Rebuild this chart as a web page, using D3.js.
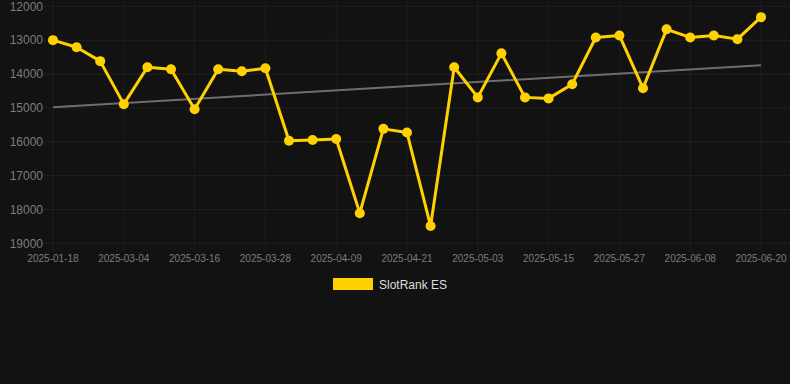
<!DOCTYPE html>
<html>
<head>
<meta charset="utf-8">
<script src="https://cdn.jsdelivr.net/npm/d3@7"></script>
<style>
  html, body { margin: 0; padding: 0; background: #121212; }
  #content { width: 790px; height: 384px; }
  text { font-family: "Liberation Sans", Arial, sans-serif; }
</style>
</head>
<body>
<div id="content"></div>
<script>
// chart data
var dates = [
  '2025-01-18', '2025-02-24', '2025-02-28', '2025-03-04', '2025-03-08', '2025-03-12',
  '2025-03-16', '2025-03-20', '2025-03-24', '2025-03-28', '2025-04-01', '2025-04-05',
  '2025-04-09', '2025-04-13', '2025-04-17', '2025-04-21', '2025-04-25', '2025-04-29',
  '2025-05-03', '2025-05-07', '2025-05-11', '2025-05-15', '2025-05-19', '2025-05-23',
  '2025-05-27', '2025-05-31', '2025-06-04', '2025-06-08', '2025-06-12', '2025-06-16',
  '2025-06-20'
];
var ranks = [
  13000, 13210, 13620, 14890, 13800, 13860,
  15040, 13860, 13920, 13830, 15970, 15950,
  15920, 18110, 15620, 15730, 18490, 13800,
  14690, 13390, 14690, 14720, 14300, 12920,
  12860, 14420, 12680, 12920, 12860, 12970,
  12320
];
var trend = [14980, 13740];   // start / end of the grey trend line
var yTicks = [12000, 13000, 14000, 15000, 16000, 17000, 18000, 19000];
var xTickLabels = dates.filter(function(d, i) { return i % 3 === 0; });
var seriesName = 'SlotRank ES';

var width = 790,
    height = 384;
var gold = '#ffd100';

var svg = d3.select('#content')
  .append('svg')
  .attr('width', width)
  .attr('height', height);

svg.append('rect')
  .attr('width', width)
  .attr('height', height)
  .attr('fill', '#121212');

// scales (rank axis is reversed: smaller is better, on top)
var x = d3.scalePoint()
  .domain(dates)
  .range([53, 761]);
var y = d3.scaleLinear()
  .domain([12000, 19000])
  .range([6.3, 243.3]);

// grid
var grid = svg.append('g');
grid.selectAll('line.h')
  .data(yTicks)
  .enter()
  .append('line')
    .attr('class', 'h')
    .attr('x1', 43)
    .attr('x2', width)
    .attr('y1', function(d) { return y(d); })
    .attr('y2', function(d) { return y(d); })
    .attr('stroke', '#202020')
    .attr('stroke-width', 1);
grid.selectAll('line.v')
  .data(xTickLabels)
  .enter()
  .append('line')
    .attr('class', 'v')
    .attr('x1', function(d) { return x(d); })
    .attr('x2', function(d) { return x(d); })
    .attr('y1', 0)
    .attr('y2', 252)
    .attr('stroke', '#1d1d1d')
    .attr('stroke-width', 1);

// y labels
svg.selectAll('text.ylab')
  .data(yTicks)
  .enter()
  .append('text')
    .attr('class', 'ylab')
    .attr('x', 43)
    .attr('y', function(d) { return y(d); })
    .attr('dy', '0.35em')
    .attr('text-anchor', 'end')
    .style('font-size', '12px')
    .style('fill', '#7c7c7c')
    .text(function(d) { return d; });

// x labels
svg.selectAll('text.xlab')
  .data(xTickLabels)
  .enter()
  .append('text')
    .attr('class', 'xlab')
    .attr('x', function(d) { return x(d); })
    .attr('y', 262)
    .attr('text-anchor', 'middle')
    .style('font-size', '10px')
    .style('fill', '#7c7c7c')
    .text(function(d) { return d; });

// trend line
svg.append('line')
  .attr('x1', x(dates[0]))
  .attr('x2', x(dates[dates.length - 1]))
  .attr('y1', y(trend[0]))
  .attr('y2', y(trend[1]))
  .attr('stroke', '#6e6e6e')
  .attr('stroke-width', 2);

// series line
var line = d3.line()
  .x(function(d, i) { return x(dates[i]); })
  .y(function(d) { return y(d); });

svg.append('path')
  .datum(ranks)
  .attr('d', line)
  .attr('fill', 'none')
  .attr('stroke', gold)
  .attr('stroke-width', 3)
  .attr('stroke-linejoin', 'round');

svg.selectAll('circle.pt')
  .data(ranks)
  .enter()
  .append('circle')
    .attr('class', 'pt')
    .attr('cx', function(d, i) { return x(dates[i]); })
    .attr('cy', function(d) { return y(d); })
    .attr('r', 5)
    .attr('fill', gold);

// legend
svg.append('rect')
  .attr('x', 333)
  .attr('y', 278)
  .attr('width', 40)
  .attr('height', 12)
  .attr('fill', gold);
svg.append('text')
  .attr('x', 379)
  .attr('y', 289)
  .style('font-size', '12px')
  .style('fill', '#dddddd')
  .text(seriesName);
</script>
</body>
</html>
